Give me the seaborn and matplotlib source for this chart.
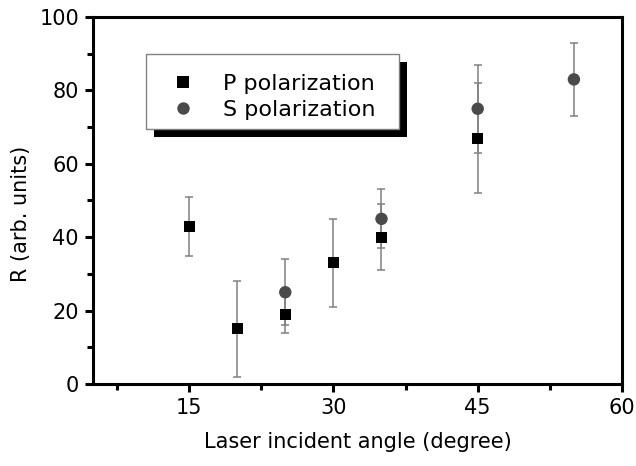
import matplotlib
matplotlib.use("Agg")
import matplotlib.pyplot as plt
from matplotlib.patches import Rectangle
from matplotlib.ticker import MultipleLocator
import seaborn as sns
import pandas as pd

# Data
p_angle = [15, 20, 25, 30, 35, 45]
p_value = [43, 15, 19, 33, 40, 67]
p_err = [8, 13, 5, 12, 9, 15]
s_angle = [25, 35, 45, 55]
s_value = [25, 45, 75, 83]
s_err = [9, 8, 12, 10]
series_labels = ["P polarization", "S polarization"]
x_ticks = [15, 30, 45, 60]
y_ticks = [0, 20, 40, 60, 80, 100]

sns.set_style("white")
plt.rcParams['font.family'] = ['DejaVu Sans']
plt.rcParams['text.color'] = 'black'
plt.rcParams['axes.labelcolor'] = 'black'
plt.rcParams['xtick.color'] = 'black'
plt.rcParams['ytick.color'] = 'black'

df = pd.DataFrame({
    "angle": p_angle + s_angle,
    "R": p_value + s_value,
    "err": p_err + s_err,
    "pol": [series_labels[0]] * len(p_angle) + [series_labels[1]] * len(s_angle),
})

fig = plt.figure(figsize=(6.36, 4.66), dpi=100)
ax = fig.add_axes([0.146, 0.176, 0.832, 0.7875])

err_color = "#808080"
for lab in series_labels:
    sub = df[df.pol == lab]
    ax.errorbar(sub.angle, sub.R, yerr=sub.err, fmt="none", ecolor=err_color,
                elinewidth=1.1, capsize=3, capthick=1.1, zorder=2)

sns.scatterplot(data=df, x="angle", y="R", hue="pol", style="pol", size="pol",
                hue_order=series_labels, style_order=series_labels,
                size_order=series_labels,
                palette=["#000000", "#4a4a4a"],
                markers={series_labels[0]: "s", series_labels[1]: "o"},
                sizes={series_labels[0]: 64, series_labels[1]: 80},
                edgecolor="none", linewidth=0, ax=ax, zorder=3)

ax.set_xlim(5, 60)
ax.set_ylim(0, 100)
ax.set_xticks(x_ticks)
ax.set_yticks(y_ticks)
ax.xaxis.set_minor_locator(MultipleLocator(7.5))
ax.yaxis.set_minor_locator(MultipleLocator(10))
ax.tick_params(axis="both", which="major", direction="out", length=6, width=2.2,
               labelsize=15, colors="black", pad=4, bottom=True, left=True,
               top=False, right=False)
ax.tick_params(axis="both", which="minor", direction="out", length=4, width=2.2,
               color="black", bottom=True, left=True, top=False, right=False)
for sp in ax.spines.values():
    sp.set_visible(True)
    sp.set_color("black")
    sp.set_linewidth(2.2)

ax.set_xlabel("Laser incident angle (degree)", fontsize=15, labelpad=10)
ax.set_ylabel("R (arb. units)", fontsize=15)
ax.yaxis.set_label_coords(-0.117, 0.463)

# legend box with offset black shadow
bx0, bx1, by0, by1 = 0.1002, 0.5784, 0.695, 0.899
dx, dy = 0.0151, 0.0218
ax.add_patch(Rectangle((bx0 + dx, by0 - dy), bx1 - bx0, by1 - by0,
                       transform=ax.transAxes, facecolor="black",
                       edgecolor="none", zorder=4.8, clip_on=False))
ax.add_patch(Rectangle((bx0, by0), bx1 - bx0, by1 - by0,
                       transform=ax.transAxes, facecolor="white",
                       edgecolor="#808080", linewidth=1.0, zorder=4.9,
                       clip_on=False))

handles, labels = ax.get_legend_handles_labels()
leg = ax.legend(handles=handles, labels=labels, loc="center left",
                bbox_to_anchor=(0.1486, 0.782), frameon=False,
                fontsize=16, borderpad=0, handlelength=1.0,
                handletextpad=1.3, labelspacing=0.26, markerscale=1.0,
                borderaxespad=0)
leg.set_zorder(5)

fig.savefig("out.png", dpi=100)
